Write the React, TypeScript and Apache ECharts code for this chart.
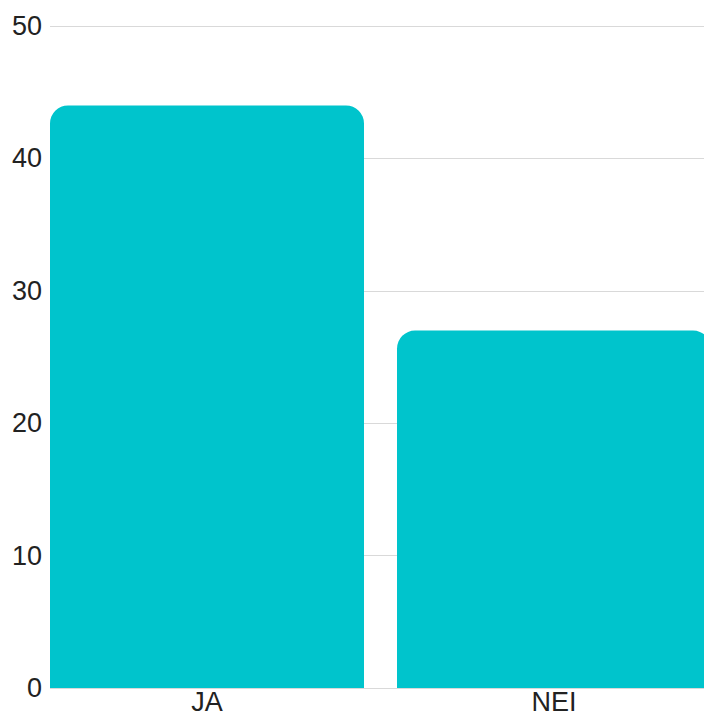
import React, { useEffect, useRef } from "react";
import * as echarts from "echarts";

const categories = ["JA", "NEI"];
const values = [44, 27];
const yTicks = { min: 0, max: 50, interval: 10 };

export default function App() {
  const ref = useRef<HTMLDivElement>(null);
  useEffect(() => {
    document.body.style.margin = "0";
    const chart = echarts.init(ref.current!, undefined, { renderer: "svg" });
    chart.setOption({
      animation: false,
      grid: {
        left: 50,
        top: 26,
        bottom: 26,
        width: 694,
        containLabel: false,
        outerBoundsMode: "none",
      },
      xAxis: {
        type: "category",
        data: categories,
        axisLine: { show: false },
        axisTick: { show: false },
        axisLabel: {
          color: "#222",
          fontSize: 27,
          fontFamily: "Liberation Sans",
          margin: 0,
          padding: [0, 33, 0, 0],
        },
      },
      yAxis: {
        type: "value",
        min: yTicks.min,
        max: yTicks.max,
        interval: yTicks.interval,
        axisLine: { show: false },
        axisTick: { show: false },
        axisLabel: {
          color: "#222",
          fontSize: 27,
          fontFamily: "Liberation Sans",
          margin: 8,
        },
        splitLine: { lineStyle: { color: "#d9d9d9", width: 1 } },
      },
      series: [
        {
          type: "bar",
          data: values,
          barWidth: 314,
          barGap: "0%",
          barCategoryGap: "0%",
          itemStyle: { color: "#00C4CC", borderRadius: [18, 18, 0, 0] },
        },
        {
          type: "bar",
          data: categories.map(() => null),
          barWidth: 33,
          barGap: "0%",
          barCategoryGap: "0%",
          silent: true,
        },
      ],
    });
    return () => chart.dispose();
  }, []);
  return <div ref={ref} style={{ width: 704, height: 714 }} />;
}
